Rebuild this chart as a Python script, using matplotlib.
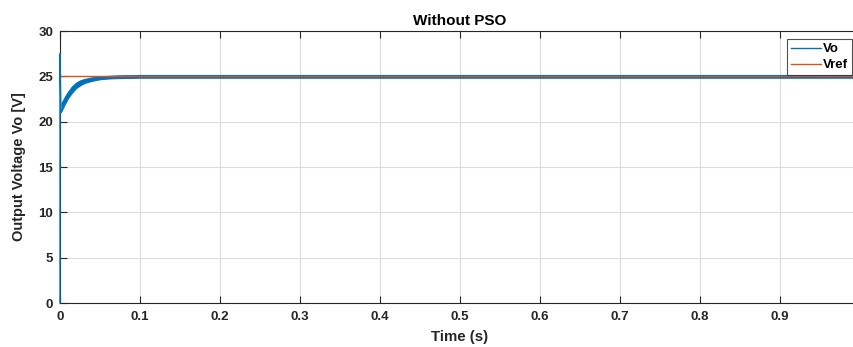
import matplotlib
matplotlib.use("Agg")
import matplotlib.pyplot as plt

plt.rcParams['font.family'] = ['Liberation Sans', 'DejaVu Sans']
plt.rcParams['font.weight'] = 'bold'

# Initial spike of Vo (start-up transient)
spike_t = [0.0, 0.0, 0.0004, 0.0012, 0.002]
spike_v = [0.0, 27.5, 25.0, 21.0, 21.3]

# Ripple envelope of Vo (upper / lower bounds)
env_t = [0.002, 0.004, 0.007, 0.010, 0.0125, 0.015, 0.02, 0.025, 0.03, 0.0375,
         0.045, 0.05, 0.06, 0.07, 0.08, 0.1, 0.2, 0.3, 0.4, 0.5, 0.6, 0.7, 0.8, 0.9, 1.0]
env_hi = [22.1, 22.4, 22.9, 23.3, 23.6, 23.9, 24.3, 24.55, 24.7, 24.85,
          24.95, 25.0, 25.05, 25.1, 25.12, 25.15, 25.15, 25.15, 25.15, 25.15, 25.15, 25.15, 25.15, 25.15, 25.15]
env_lo = [21.2, 21.6, 22.1, 22.6, 22.9, 23.2, 23.7, 24.0, 24.25, 24.45,
          24.6, 24.68, 24.76, 24.8, 24.82, 24.85, 24.85, 24.85, 24.85, 24.85, 24.85, 24.85, 24.85, 24.85, 24.85]

vref_t = [0.0, 1.0]
vref_v = [25.0, 25.0]

xticks = [0, 0.1, 0.2, 0.3, 0.4, 0.5, 0.6, 0.7, 0.8, 0.9]
xticklabels = ['0', '0.1', '0.2', '0.3', '0.4', '0.5', '0.6', '0.7', '0.8', '0.9']
yticks = [0, 5, 10, 15, 20, 25, 30]

blue = '#0072BD'
orange = '#D95319'

fig = plt.figure(figsize=(8.54, 3.47), dpi=100)
ax = fig.add_axes([60/854, (347-303)/347, 800/854, 272/347])

ax.plot(spike_t, spike_v, color=blue, lw=1.0, label='Vo', zorder=3, clip_on=False)
ax.fill_between(env_t, env_lo, env_hi, color=blue, lw=0.8, edgecolor=blue, zorder=2)
ax.plot(vref_t, vref_v, color=orange, lw=1.0, label='Vref', zorder=2.2)

ax.set_xlim(0, 1.0)
ax.set_ylim(0, 30)
ax.set_xticks(xticks)
ax.set_xticklabels(xticklabels)
ax.set_yticks(yticks)
ax.grid(True, color='#dcdcdc', lw=0.8)
ax.set_axisbelow(True)
ax.tick_params(axis='x', direction='in', length=5, width=0.8, top=True,
               labelsize=9.5, colors='#262626', pad=6)
ax.tick_params(axis='y', direction='in', length=5, width=0.8, right=False,
               labelsize=9.5, colors='#262626', pad=5)
for s in ax.spines.values():
    s.set_color('#262626')
    s.set_linewidth(0.8)
for lab in ax.get_xticklabels() + ax.get_yticklabels():
    lab.set_fontweight('bold')

ax.set_xlabel('Time (s)', fontsize=10.8, fontweight='bold', color='#262626', labelpad=5)
ax.set_ylabel('Output Voltage Vo [V]', fontsize=10.5, fontweight='bold', color='#262626', labelpad=9)
ax.set_title('Without PSO', fontsize=11, fontweight='bold', color='black', pad=4)

leg = ax.legend(loc='upper right', bbox_to_anchor=(792/800, (303-39)/272), fontsize=9.5,
                frameon=True, fancybox=False, edgecolor='#262626', handlelength=2.3,
                handletextpad=0.15, borderpad=0.3, labelspacing=0.3, borderaxespad=0)
leg.get_frame().set_linewidth(0.8)
for t in leg.get_texts():
    t.set_fontweight('bold')

fig.savefig('out.png', dpi=100)
